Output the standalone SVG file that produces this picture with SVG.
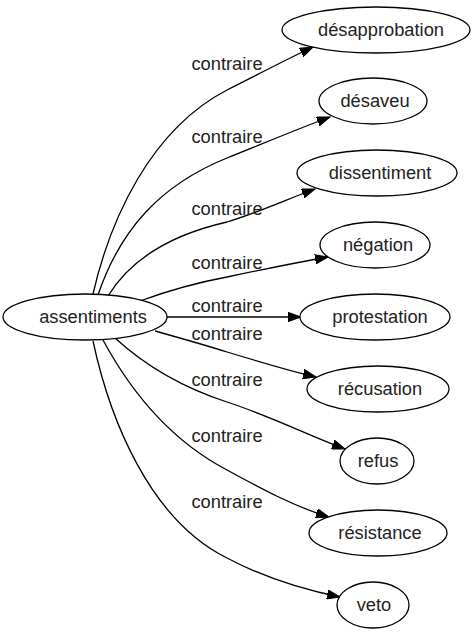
<svg xmlns="http://www.w3.org/2000/svg" width="475" height="635" viewBox="0 0 475 635">
<defs>
<marker id="arr" markerUnits="userSpaceOnUse" markerWidth="14" markerHeight="10" refX="13" refY="5" orient="auto">
<path d="M0,0.3 L13,5 L0,9.7 Z" fill="#000" stroke="#000" stroke-width="1"/>
</marker>
</defs>
<style>
.n ellipse{fill:#fff;stroke:#000;stroke-width:1.3}
text{font-family:"Liberation Sans",Arial,sans-serif;font-size:18.3px;fill:#222;text-anchor:middle}
.e path{fill:none;stroke:#000;stroke-width:1.3;marker-end:url(#arr)}
</style>
<rect width="475" height="635" fill="#fff"/>
<g class="e" id="edges">
<path d="M93,294 C110,220 150,130 227,90 C255,76 285,60 313,47"/>
<path d="M98,295 C120,230 160,185 227,158 C262,144 300,128 330,117"/>
<path d="M108,296 C130,260 170,235 227,222 C260,212 290,198 315,189"/>
<path d="M140,301 C170,290 200,282 227,277 C260,270 300,262 328,257"/>
<path d="M167,317 L301,317"/>
<path d="M155,331 C180,338 205,345 227,352 C260,362 290,371 316,377"/>
<path d="M115,338 C150,370 190,390 227,402 C270,416 310,436 345,449"/>
<path d="M103,340 C130,390 170,440 227,470 C260,488 295,507 329,517"/>
<path d="M93,341 C110,420 150,520 227,558 C265,578 305,590 340,597"/>
<text x="227" y="70">contraire</text>
<text x="227" y="143">contraire</text>
<text x="227" y="215">contraire</text>
<text x="227" y="269">contraire</text>
<text x="227" y="312">contraire</text>
<text x="227" y="340">contraire</text>
<text x="227" y="386">contraire</text>
<text x="227" y="442">contraire</text>
<text x="227" y="508">contraire</text>
</g>
<g class="n" id="assentiments"><ellipse cx="85" cy="317" rx="82" ry="23"/><text x="93" y="323">assentiments</text></g>
<g class="n" id="desapprobation"><ellipse cx="376" cy="30" rx="94" ry="23"/><text x="381" y="36">désapprobation</text></g>
<g class="n" id="desaveu"><ellipse cx="373" cy="101" rx="54" ry="23"/><text x="375" y="107">désaveu</text></g>
<g class="n" id="dissentiment"><ellipse cx="377" cy="173" rx="80" ry="23"/><text x="380" y="179">dissentiment</text></g>
<g class="n" id="negation"><ellipse cx="375" cy="245" rx="55" ry="23"/><text x="378" y="251">négation</text></g>
<g class="n" id="protestation"><ellipse cx="375" cy="317" rx="75" ry="23"/><text x="380" y="323">protestation</text></g>
<g class="n" id="recusation"><ellipse cx="378" cy="389" rx="71" ry="23"/><text x="380" y="395">récusation</text></g>
<g class="n" id="refus"><ellipse cx="377" cy="461" rx="37" ry="23"/><text x="378" y="467">refus</text></g>
<g class="n" id="resistance"><ellipse cx="378" cy="533" rx="69" ry="23"/><text x="380" y="539">résistance</text></g>
<g class="n" id="veto"><ellipse cx="373" cy="605" rx="36" ry="23"/><text x="374" y="611">veto</text></g>
</svg>
